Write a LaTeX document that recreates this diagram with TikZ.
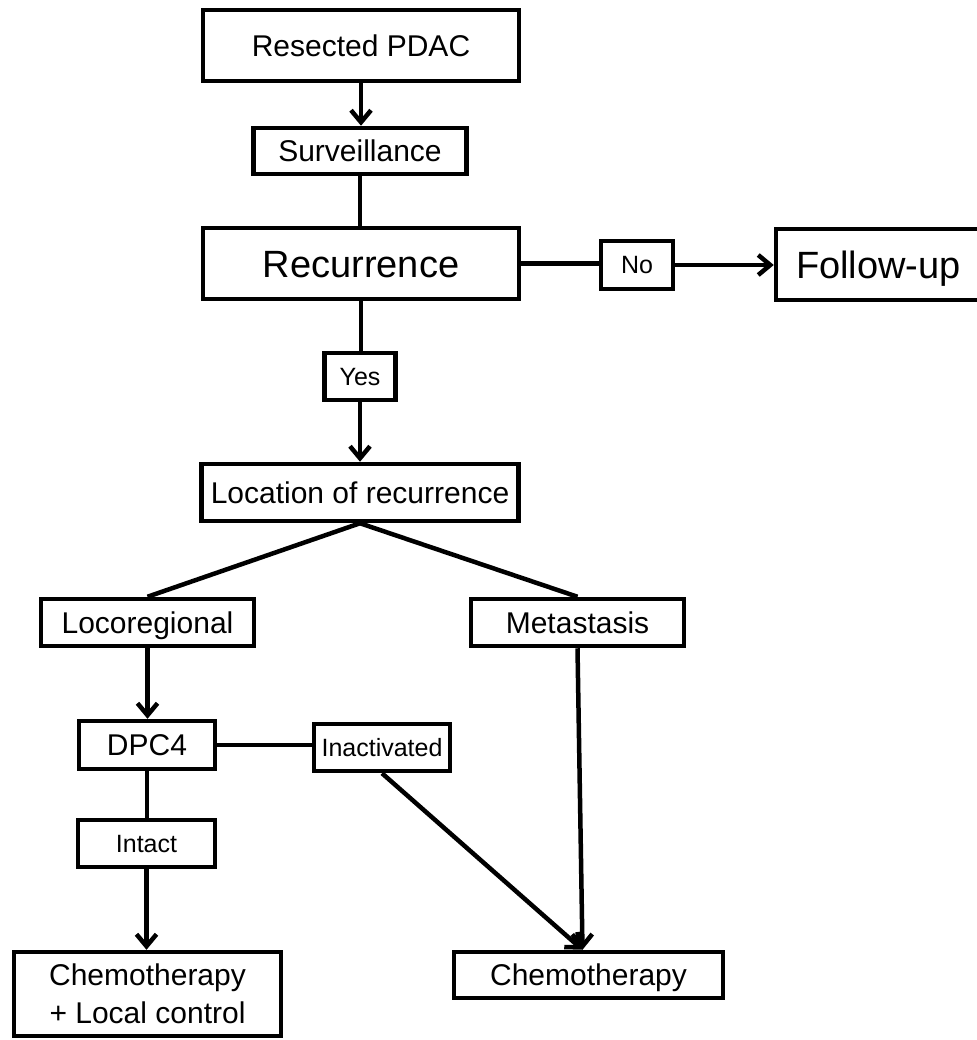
\documentclass[tikz,border=0pt]{standalone}
\usepackage{fontspec}
\setmainfont{Liberation Sans}
\usetikzlibrary{arrows.meta}
\begin{document}
\begin{tikzpicture}[x=1pt,y=-1pt,
  basebox/.style={draw, line width=4.5pt, inner sep=0pt, align=center, font=\fontsize{30}{38}\selectfont},
  box/.style={basebox, text height=21.6pt, text depth=0pt},
  bigbox/.style={basebox, font=\fontsize{38}{44}\selectfont, text height=27.4pt, text depth=0pt},
  smallbox/.style={basebox, font=\fontsize{25}{30}\selectfont, text height=18pt, text depth=0pt},
  conn/.style={line width=4.5pt},
  arr/.style={line width=4.5pt, -{Straight Barb[length=12pt,width=20pt]}}
]
\useasboundingbox (0,0) rectangle (976,1040);
\node[box, minimum width=316pt, minimum height=71pt] (pdac) at (361,45.5) {Resected PDAC};
\node[box, minimum width=213pt, minimum height=46pt] (surv) at (360,151) {Surveillance};
\node[bigbox, minimum width=316pt, minimum height=71pt] (recur) at (361,263.5) {Recurrence};
\node[smallbox, minimum width=72pt, minimum height=48pt] (no) at (637,265) {No};
\node[bigbox, minimum width=207pt, minimum height=71pt, text width=207pt, align=left] (follow) at (879.5,264.5) {\hspace*{20pt}Follow-up};
\node[smallbox, minimum width=71pt, minimum height=47pt] (yes) at (360,376.5) {Yes};
\node[box, minimum width=317pt, minimum height=57pt] (loc) at (360,492.5) {Location of recurrence};
\node[box, minimum width=213pt, minimum height=47pt] (locoreg) at (147.5,622.5) {Locoregional};
\node[box, minimum width=213pt, minimum height=47pt] (meta) at (577.5,622.5) {Metastasis};
\node[box, minimum width=136pt, minimum height=48pt] (dpc) at (147,745) {DPC4};
\node[smallbox, minimum width=136pt, minimum height=47pt] (inact) at (382,747.5) {Inactivated};
\node[smallbox, minimum width=137pt, minimum height=47pt] (intact) at (146.5,843.5) {Intact};
\node[basebox, minimum width=267pt, minimum height=84pt] (chemolc) at (147.5,994) {Chemotherapy\\+ Local control};
\node[box, minimum width=269pt, minimum height=46pt] (chemo) at (588.5,975) {Chemotherapy};
\coordinate (cin) at ([xshift=-6pt]chemo.north);

\draw[arr] (pdac.south) -- (pdac.south |- surv.north);
\draw[conn] (surv.south) -- (surv.south |- recur.north);
\draw[conn] (recur.east) -- (recur.east -| no.west);
\draw[arr] (no.east) -- (no.east -| follow.west);
\draw[conn] (recur.south) -- (recur.south |- yes.north);
\draw[arr] (yes.south) -- (yes.south |- loc.north);
\draw[conn] (loc.south) -- (locoreg.north);
\draw[conn] (loc.south) -- (meta.north);
\draw[arr] (locoreg.south) -- (locoreg.south |- dpc.north);
\draw[conn] (dpc.east) -- (dpc.east -| inact.west);
\draw[conn] (dpc.south) -- (dpc.south |- intact.north);
\draw[arr] (intact.south) -- (intact.south |- chemolc.north);
\draw[arr] (inact.south) -- (cin);
\draw[arr] (meta.south) -- (cin);
\end{tikzpicture}
\end{document}
